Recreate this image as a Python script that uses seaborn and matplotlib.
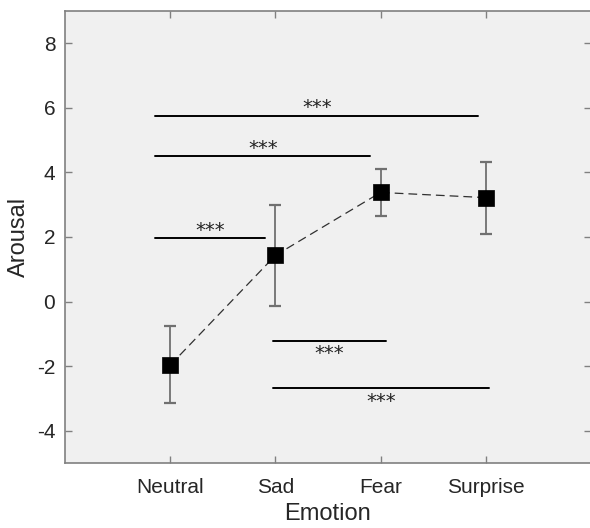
import matplotlib
matplotlib.use("Agg")
import matplotlib.pyplot as plt
import seaborn as sns
import numpy as np
import pandas as pd

# Data
emotions = ["Neutral", "Sad", "Fear", "Surprise"]
arousal_mean = [-1.97, 1.43, 3.38, 3.22]
arousal_upper = [-0.75, 3.00, 4.10, 4.32]
arousal_lower = [-3.15, -0.13, 2.65, 2.10]

# significance brackets
sig_x0 = [0.86, 0.86, 0.86, 1.98, 1.98]
sig_x1 = [3.93, 2.90, 1.90, 3.05, 4.03]
sig_y = [5.75, 4.50, 1.96, -1.21, -2.67]
sig_label = ["***", "***", "***", "***", "***"]
sig_above = [True, True, True, False, False]

yticks = [-4, -2, 0, 2, 4, 6, 8]

sns.set_theme(style="white")
plt.rcParams['font.family'] = ['Liberation Sans', 'DejaVu Sans']

fig = plt.figure(figsize=(5.9, 5.28), dpi=100)
ax = fig.add_axes([65/590, 65/528, 526/590, 452/528])
ax.set_facecolor("#f0f0f0")

xpos = np.arange(1, len(emotions) + 1)
df = pd.DataFrame({"x": xpos, "y": arousal_mean})

yerr = np.array([np.array(arousal_mean) - np.array(arousal_lower),
                 np.array(arousal_upper) - np.array(arousal_mean)])
eb = ax.errorbar(xpos, arousal_mean, yerr=yerr, fmt="none", ecolor="#707070",
                 elinewidth=1.3, capsize=4, capthick=1.6, zorder=2)
for cap in eb[1]:
    cap.set_color("#404040")
sns.lineplot(data=df, x="x", y="y", ax=ax, color="#303030", lw=0.9,
             linestyle=(0, (7, 4)), zorder=3)
sns.scatterplot(data=df, x="x", y="y", ax=ax, marker="s", s=125,
                color="black", edgecolor="black", linewidth=0.5, zorder=4)

for x0, x1, y, lab, above in zip(sig_x0, sig_x1, sig_y, sig_label, sig_above):
    ax.plot([x0, x1], [y, y], color="black", lw=1.4, zorder=2)
    ax.text((x0 + x1) / 2, y + (0.08 if above else -0.58), lab,
            ha="center", va="baseline",
            fontsize=14, family=["DejaVu Sans"],
            color="#222222")

ax.set_xlim(0, 5)
ax.set_ylim(-5, 9)
ax.set_xticks(xpos)
ax.set_xticklabels(emotions)
ax.set_yticks(yticks)
ax.set_yticklabels([str(t) for t in yticks])
ax.tick_params(axis="both", direction="in", length=5, width=1, color="#808080",
               labelsize=15, labelcolor="#262626", top=True, right=True,
               left=True, bottom=True, pad=7)
ax.tick_params(axis="x", pad=11)
for s in ax.spines.values():
    s.set_visible(True)
    s.set_color("#808080")
    s.set_linewidth(1.2)
ax.spines["right"].set_visible(False)
ax.set_xlabel("Emotion", fontsize=17, color="#262626", labelpad=4)
ax.set_ylabel("Arousal", fontsize=17, color="#262626", labelpad=5)

fig.savefig("out.png", dpi=100)
